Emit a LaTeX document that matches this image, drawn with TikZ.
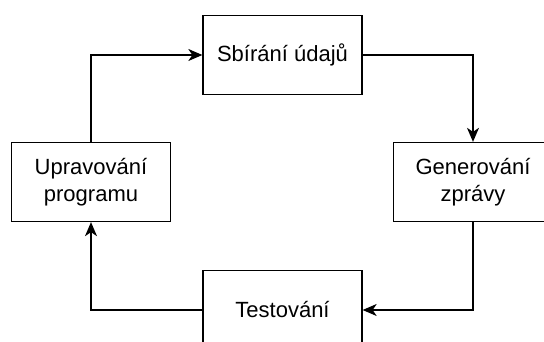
\documentclass[tikz,border=0pt]{standalone}
\usepackage{fontspec}
\setmainfont{Liberation Sans}
\usetikzlibrary{arrows.meta}
\begin{document}
\begin{tikzpicture}[x=1pt, y=-1pt,
  box/.style={draw, line width=1.3pt, minimum width=159pt, minimum height=79pt,
    align=center, inner sep=0pt, font=\fontsize{22}{27}\selectfont},
  link/.style={line width=1.3pt, -{Stealth[length=14pt, width=12pt, inset=4pt]}}]
\clip (0,0) rectangle (544,342);
\node [box] (sber) at (282.5,55) {Sbírání údajů};
\node [box] (gen) at (473,182) {Generování\\zprávy};
\node [box] (test) at (282.5,310) {Testování};
\node [box] (uprava) at (91,182) {Upravování\\programu};
% cyklus
\draw [link] (uprava.north) |- (sber.west);
\draw [link] (sber.east) -| (gen.north);
\draw [link] (gen.south) |- (test.east);
\draw [link] (test.west) -| (uprava.south);
\end{tikzpicture}
\end{document}
